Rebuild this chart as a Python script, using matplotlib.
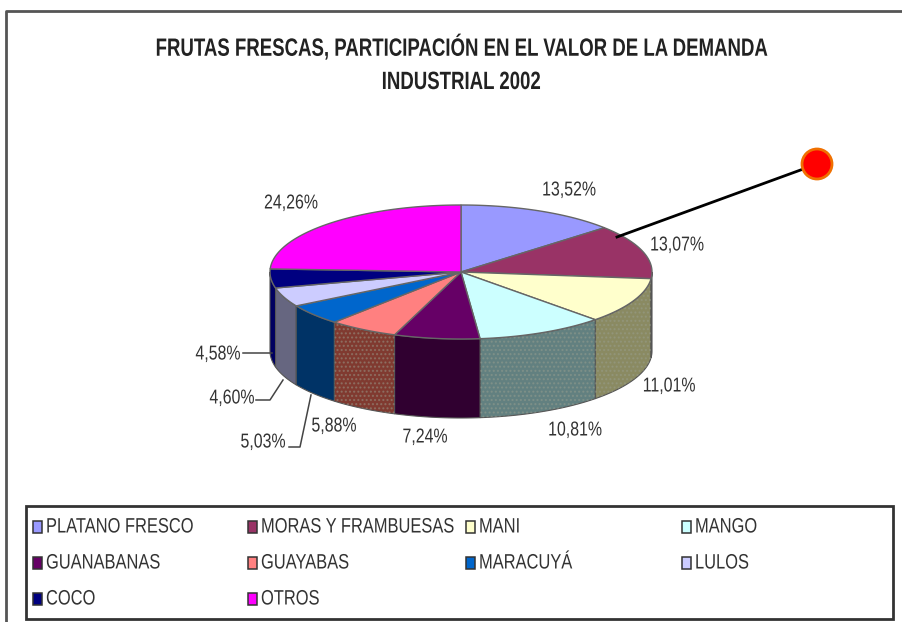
import numpy as np
import matplotlib
matplotlib.use("Agg")
import matplotlib.pyplot as plt
from matplotlib.patches import Polygon, Circle, Rectangle
from matplotlib.patheffects import AbstractPathEffect
from matplotlib.text import Text
from matplotlib.transforms import Affine2D, Bbox

plt.rcParams['font.family'] = ['Liberation Sans', 'DejaVu Sans']

categories = ['PLATANO FRESCO', 'MORAS Y FRAMBUESAS', 'MANI', 'MANGO', 'GUANABANAS',
              'GUAYABAS', 'MARACUYÁ', 'LULOS', 'COCO', 'OTROS']
values = [13.52, 13.07, 11.01, 10.81, 7.24, 5.88, 5.03, 4.60, 4.58, 24.26]
top_colors = ['#9999FF', '#993366', '#FFFFCC', '#CCFFFF', '#660066',
              '#FF8080', '#0066CC', '#CCCCFF', '#000080', '#FF00FF']
side_colors = ['#4D4D80', '#4D1A33', '#8A8A62', '#628080', '#300030',
               '#803A30', '#003366', '#666680', '#000060', '#800080']
title_lines = ['FRUTAS FRESCAS, PARTICIPACIÓN EN EL VALOR DE LA DEMANDA', 'INDUSTRIAL 2002']

cx, cy, rx, ry, depth = 461, 272, 191, 67, 79
label_pos = [(569, 190), (677, 245), (669, 386), (575, 430), (425, 437),
             (334, 426), (263, 442), (232, 398), (218, 354), (291, 203)]


class Squeeze(AbstractPathEffect):
    # no narrow font installed, so squeeze the glyphs sideways around x0
    def __init__(self, x0, sx):
        super().__init__()
        self.x0 = x0
        self.sx = sx

    def draw_path(self, renderer, gc, tpath, affine, rgbFace=None):
        squeeze = Affine2D().translate(-self.x0, 0).scale(self.sx, 1).translate(self.x0, 0)
        renderer.draw_path(gc, tpath, affine + squeeze, rgbFace)


class NarrowText(Text):
    # reports the squeezed width, so the extent fits what is drawn
    def __init__(self, x, y, s, sx, x0, **kw):
        super().__init__(x, y, s, **kw)
        self.sx = sx
        self.x0 = x0
        self.set_path_effects([Squeeze(x0, sx)])

    def get_window_extent(self, renderer=None, dpi=None):
        b = super().get_window_extent(renderer, dpi)
        x0 = self.x0 + (b.x0 - self.x0) * self.sx
        x1 = self.x0 + (b.x1 - self.x0) * self.sx
        return Bbox([[x0, b.y0], [x1, b.y1]])


def ell(angle):
    # angle clockwise from 12 o'clock, degrees
    a = np.radians(angle)
    return cx + rx * np.sin(a), cy - ry * np.cos(a)


def narrow_text(x, y, s, sx, **kw):
    t = NarrowText(x, y, s, sx, ax.transData.transform((x, y))[0], va='center', **kw)
    ax.add_artist(t)
    return t


fig = plt.figure(figsize=(9.03, 6.22), dpi=100)
ax = fig.add_axes([0, 0, 1, 1])
ax.set_xlim(0, 903)
ax.set_ylim(622, 0)
ax.axis('off')

# outer frame
ax.plot([6, 6, 903], [622, 11, 11], color='#555555', lw=2)

for i, line in enumerate(title_lines):
    narrow_text(461, 47 + i * 35, line, 0.745, ha='center', fontsize=18,
                fontweight='bold', color='#222222')

edges = np.cumsum([0] + values) * 3.6

# walls, back to front order from the sides
order = [2, 1, 3, 8, 7, 6, 5, 4]
for i in order:
    a0 = max(edges[i], 90)
    a1 = min(edges[i + 1], 270)
    if a1 <= a0:
        continue
    t = np.linspace(a0, a1, 40)
    xs, ys = ell(t)
    pts = np.column_stack([np.r_[xs, xs[::-1]], np.r_[ys, ys[::-1] + depth]])
    ax.add_patch(Polygon(pts, closed=True, facecolor=side_colors[i], edgecolor='#555555',
                         lw=0.8, zorder=2))
    if categories[i] in ('MANI', 'MANGO', 'GUAYABAS'):
        ax.add_patch(Polygon(pts, closed=True, facecolor='none', edgecolor='#9aa090',
                             lw=0, hatch='....', zorder=2.1, alpha=0.45))

# top surface
for i in range(len(values)):
    t = np.linspace(edges[i], edges[i + 1], 60)
    xs, ys = ell(t)
    pts = np.column_stack([np.r_[cx, xs], np.r_[cy, ys]])
    ax.add_patch(Polygon(pts, closed=True, facecolor=top_colors[i], edgecolor='#666666',
                         lw=1.0, zorder=3))

# leader lines
ax.plot([243, 272], [353, 353], color='#444444', lw=1.1, zorder=4)
ax.plot([256, 270, 283], [400, 400, 380], color='#444444', lw=1.1, zorder=4)
ax.plot([289, 300, 311], [447, 447, 395], color='#444444', lw=1.1, zorder=4)

for v, (x, y) in zip(values, label_pos):
    narrow_text(x, y, f'{v:.2f}%'.replace('.', ','), 0.79, ha='center',
                fontsize=14.5, color='#333333', zorder=5)

# callout
ax.plot([617, 817], [237, 164], color='black', lw=2, zorder=6)
ax.add_patch(Circle((817, 164), 15, facecolor='#FF0000', edgecolor='#F07000', lw=2, zorder=7))

# legend
ax.add_patch(Rectangle((26, 506), 867, 113, facecolor='white', edgecolor='#333333', lw=2, zorder=1))
col_x = [33, 248, 466, 682]
row_y = [527, 563, 599]
for i, (name, col) in enumerate(zip(categories, top_colors)):
    x = col_x[i % 4]
    y = row_y[i // 4]
    ax.add_patch(Rectangle((x, y - 6), 9, 12, facecolor=col, edgecolor='#333333', lw=1.1, zorder=3))
    narrow_text(x + 13, y, name, 0.79, ha='left', fontsize=15, color='#333333', zorder=3)

fig.savefig('out.png', dpi=100)
